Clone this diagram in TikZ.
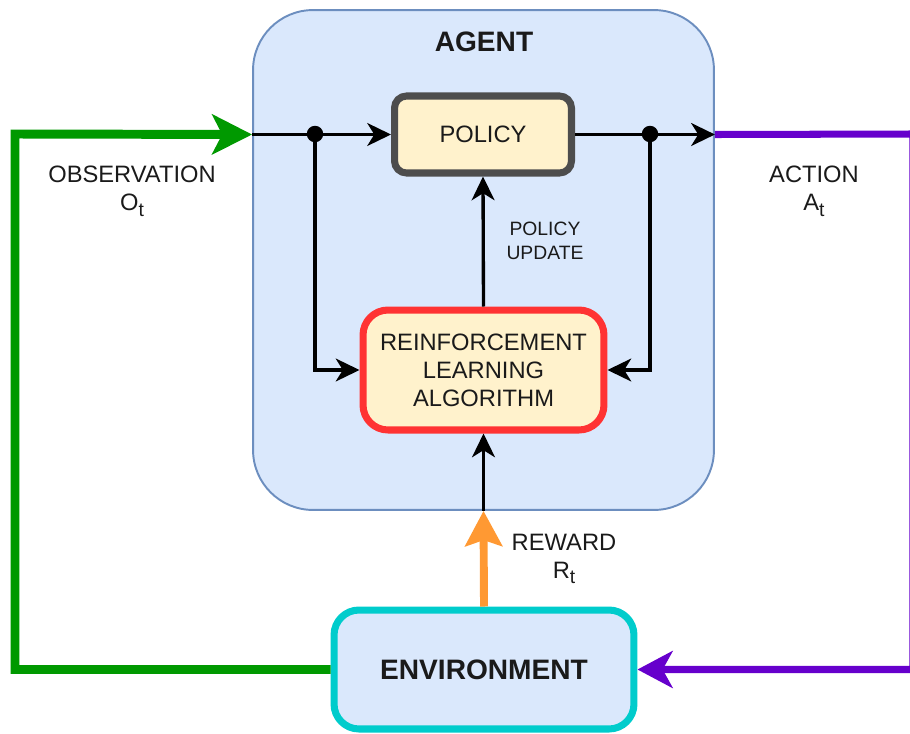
\documentclass[tikz,border=0pt]{standalone}
\usepackage{fontspec}
\setmainfont{Liberation Sans}
\usetikzlibrary{arrows.meta,positioning}

% colours of the diagram
\definecolor{agentfill}{HTML}{DAE8FC}
\definecolor{agentline}{HTML}{6C8EBF}
\definecolor{boxfill}{HTML}{FFF2CC}
\definecolor{policyline}{HTML}{4D4D4D}
\definecolor{rlline}{HTML}{FF3333}
\definecolor{envline}{HTML}{00CCCC}
\definecolor{obsgreen}{HTML}{009900}
\definecolor{actpurple}{HTML}{6600CC}
\definecolor{reworange}{HTML}{FF9933}
\definecolor{textgray}{HTML}{1A1A1A}

% lowered subscript t
\newcommand{\timesub}[1]{\raisebox{-0.45ex}{\fontsize{11}{11}\selectfont #1}}

\tikzset{
  box/.style={draw, align=center, inner sep=0pt, text=textgray},
  labeltext/.style={align=center, text=textgray, font=\fontsize{13.5}{16}\selectfont},
  smalltext/.style={align=center, text=textgray, font=\fontsize{11}{13.6}\selectfont},
  titletext/.style={text=textgray, font=\fontsize{16}{19}\selectfont\bfseries},
  dot/.style={circle, fill=black, inner sep=0pt, minimum size=0.33cm},
  flow/.style={line width=1.9pt, -{Stealth[length=13.5pt, width=13pt, inset=4pt]}},
}

\begin{document}
\begin{tikzpicture}[x=0.02cm, y=-0.02cm]
    \useasboundingbox (0,0) rectangle (910,734);

    % Agent - big rounded box
    \node[box, fill=agentfill, draw=agentline, line width=1.1pt, rounded corners=1.2cm,
          minimum width=9.22cm, minimum height=10cm] (agent) at (483.5,260) {};
    \node[titletext] (agenttitle) at (484,42) {AGENT};

    % Policy
    \node[box, fill=boxfill, draw=policyline, line width=4pt, rounded corners=0.24cm,
          minimum width=3.54cm, minimum height=1.54cm, labeltext] (policy) at (483,134.5) {POLICY};

    % Reinforcement learning algorithm
    \node[box, fill=boxfill, draw=rlline, line width=4pt, rounded corners=0.5cm,
          minimum width=4.82cm, minimum height=2.4cm, labeltext] (rl) at (483.5,370)
          {REINFORCEMENT\\LEARNING\\ALGORITHM};

    % Environment
    \node[box, fill=agentfill, draw=envline, line width=4pt, rounded corners=0.5cm,
          minimum width=6cm, minimum height=2.38cm, titletext] (env) at (484,669.5) {ENVIRONMENT};

    % branch points and corners
    \node[dot] (obsdot) at (315,134) {};
    \node[dot] (actdot) at (650,134) {};
    \coordinate (obscorner) at (15,134);
    \coordinate (actcorner) at (913,134);

    % Labels
    \node[labeltext] (obslabel) at (132,191) {OBSERVATION\\O\timesub{t}};
    \node[labeltext] (actlabel) at (814,191) {ACTION\\A\timesub{t}};
    \node[labeltext] (rewlabel) at (564,559) {REWARD\\R\timesub{t}};
    \node[smalltext] (updlabel) at (545,241) {POLICY\\UPDATE};

    % Connections inside the agent
    \draw[flow] (agent.west |- policy) -- (policy.west);
    \draw[flow] (obsdot.center) |- (rl.west);
    \draw[flow] (policy.east) -- (agent.east |- policy);
    \draw[flow] (actdot.center) |- (rl.east);
    \draw[flow] (rl.north) -- (policy.south);
    \draw[flow] (rl |- agent.south) -- (rl.south);

    % Observation, action and reward
    \draw[obsgreen, line width=5.1pt, -{Stealth[length=22.7pt, width=22.7pt, inset=5.7pt]}]
        (env.west) -| (obscorner) -- (agent.west |- policy);
    \draw[actpurple, line width=4pt, -{Stealth[length=20pt, width=21pt, inset=5.7pt]}]
        (agent.east |- policy) -- (actcorner) |- (env.east);
    \draw[reworange, line width=4.5pt, -{Stealth[length=20pt, width=21pt, inset=3.4pt]}]
        (env.north) -- (rl |- agent.south);
\end{tikzpicture}
\end{document}
